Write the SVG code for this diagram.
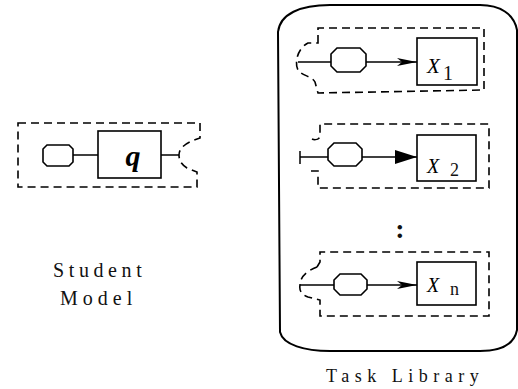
<svg xmlns="http://www.w3.org/2000/svg" width="518" height="389" viewBox="0 0 518 389">
  <style>
    .dash { fill: none; stroke: #000; stroke-width: 1.6; stroke-dasharray: 8 5; }
    .solid { fill: none; stroke: #000; stroke-width: 1.5; }
    .box { fill: #fff; stroke: #000; stroke-width: 1.6; }
    .lib { fill: none; stroke: #000; stroke-width: 2; }
    text { font-family: 'Liberation Serif', serif; fill: #111; }
    .var { font-style: italic; fill: #000; }
  </style>
  <defs>
    <marker id="head" viewBox="0 0 20 10" refX="20" refY="5" markerWidth="20" markerHeight="10" markerUnits="userSpaceOnUse" orient="auto">
      <path d="M0,1 L20,5 L0,9 L5,5 Z" fill="#000"/>
    </marker>
    <marker id="headBig" viewBox="0 0 22 14" refX="22" refY="7" markerWidth="22" markerHeight="14" markerUnits="userSpaceOnUse" orient="auto">
      <path d="M0,0 L22,7 L0,14 Z" fill="#000"/>
    </marker>
  </defs>

  <!-- Student model -->
  <g id="student-model">
    <path class="dash" d="M18,123 H200 V138 C190,141 179,146 179,155 C179,161 182,165 187,168 L197,172 V187 H18 Z"/>
    <polygon class="box" points="47,145 69,145 73,149 73,162 69,166 47,166 43,162 43,149"/>
    <rect class="box" x="98" y="131" width="63" height="47"/>
    <text x="133" y="166" text-anchor="middle" class="var" font-weight="bold" font-size="30">q</text>
    <text x="53" y="277" font-size="20" letter-spacing="4.6">Student</text>
    <text x="60" y="305" font-size="20" letter-spacing="5">Model</text>
  </g>

  <!-- Task library container -->
  <g id="task-library">
    <path class="lib" d="M278,32 C280,14 300,5 330,5 L480,5 C500,5 514,14 517,30 L517,330 C514,345 500,351 480,351 L330,351 C305,351 283,345 280,332 Z"/>
    <text x="326" y="382" font-size="18" letter-spacing="5.5">Task Library</text>
    <text x="400" y="238" text-anchor="middle" font-size="28" font-weight="bold">:</text>
  </g>

  <!-- Task 1 -->
  <g id="task-1">
    <path class="dash" d="M318,43 V28 H484 V90 L318,93 L315,82 C312,76 302,76 298,70 C294,62 298,48 308,43 Z"/>
    <polygon class="box" points="337,48 360,48 366,54 366,66 360,72 337,72 331,66 331,54"/>
    <rect class="box" x="417" y="38" width="60" height="47"/>
    <text x="427" y="73" class="var" font-size="21">X</text>
    <text x="443" y="80" font-size="20">1</text>
  </g>

  <!-- Task 2 -->
  <g id="task-2">
    <path class="dash" d="M312,139 C314,140 318,140 320,137 V124 H489 V188 H318 V171 H311"/>
    <path class="solid" d="M300,151 V164"/>
    <polygon class="box" points="334,143 356,143 362,149 362,160 356,166 334,166 328,160 328,149"/>
    <rect class="box" x="417" y="135" width="59" height="46"/>
    <text x="427" y="173" class="var" font-size="20">X</text>
    <text x="450" y="176" font-size="18">2</text>
  </g>

  <!-- Task n -->
  <g id="task-n">
    <path class="dash" d="M317,267 L320,262 V252 H489 V316 H320 V300 L308,297 C302,295 299,291 300,285 C300,279 304,272 317,267"/>
    <polygon class="box" points="340,274 361,274 367,280 367,289 361,295 340,295 334,289 334,280"/>
    <rect class="box" x="417" y="262" width="59" height="43"/>
    <text x="427" y="292" class="var" font-size="20">X</text>
    <text x="450" y="295" font-size="18">n</text>
  </g>

  <!-- Connectors -->
  <g id="connectors">
    <path class="solid" d="M73,155 H98"/>
    <path class="solid" d="M161,155 H179"/>
    <path class="solid" d="M298,62 H331"/>
    <path class="solid" d="M366,62 H417" marker-end="url(#head)"/>
    <path class="solid" d="M300,157 H328"/>
    <path class="solid" d="M362,157 H417" marker-end="url(#headBig)"/>
    <path class="solid" d="M300,285 H334"/>
    <path class="solid" d="M367,285 H417" marker-end="url(#head)"/>
  </g>
</svg>
